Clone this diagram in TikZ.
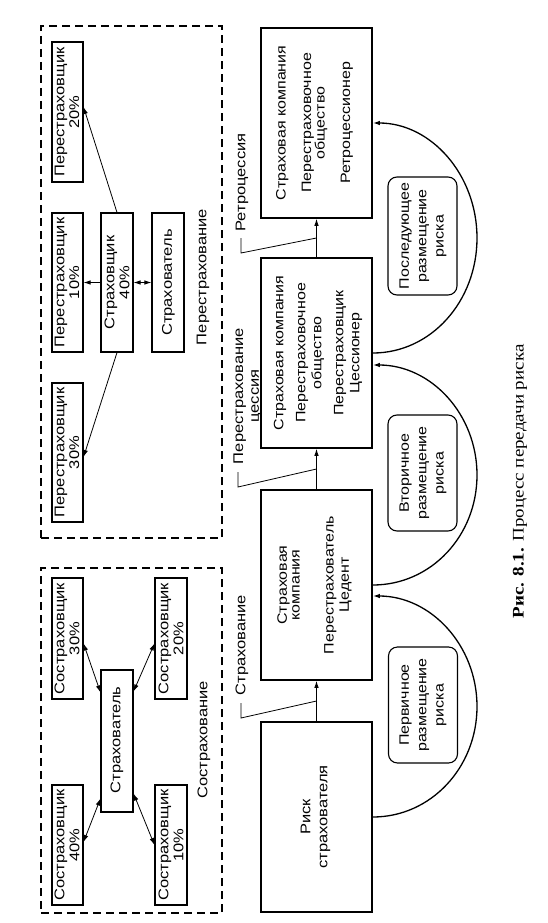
\documentclass[tikz,border=0pt]{standalone}
\usepackage{fontspec}
\setmainfont{Liberation Sans}
\newfontfamily\capfont{Liberation Serif}
\usetikzlibrary{arrows.meta,calc}
\newcommand\txtfsb[2]{\fontsize{#1}{#2}\selectfont\lineskiplimit=-30pt\relax}
\newcommand\txtfs[1]{\txtfsb{16}{#1}}
\begin{document}
\begin{tikzpicture}[x=1pt,y=-1pt,
  mainbox/.style={draw, line width=1.7pt, minimum width=111pt, minimum height=190pt, inner sep=0pt},
  smallbox/.style={draw, line width=1.1pt, inner sep=0pt},
  dashbox/.style={draw, line width=1.3pt, dash pattern=on 8pt off 5pt, inner sep=0pt},
  rbox/.style={draw, line width=1.1pt, rounded corners=9pt, minimum width=69pt, inner sep=0pt},
  txt/.style={rotate=90, yscale=0.85, align=center, inner sep=0pt, font=\txtfsb{16.5}{17.6}},
  tip/.style={-{Latex[length=7pt,width=4.5pt]}},
  dtip/.style={{Latex[length=7pt,width=4.5pt]}-{Latex[length=7pt,width=4.5pt]}},
  conn/.style={line width=0.8pt},
  arcline/.style={line width=1.3pt}
]
\useasboundingbox (0,0) rectangle (547,923);

% ---------- Reinsurance group ----------
\node[dashbox, minimum width=181pt, minimum height=512pt] (rebox) at (131.5,282) {};
\node[smallbox, minimum width=31pt, minimum height=140pt] (re20) at (67.5,112) {};
\node[txt] (re20t) at (67,112) {Перестраховщик\\20\%};
\node[smallbox, minimum width=31pt, minimum height=139pt] (re10) at (67.5,282.5) {};
\node[txt] (re10t) at (67,282.5) {Перестраховщик\\10\%};
\node[smallbox, minimum width=32pt, minimum height=139pt] (ins40) at (117,282.5) {};
\node[txt] (ins40t) at (117,282.5) {Страховщик\\40\%};
\node[smallbox, minimum width=32pt, minimum height=139pt] (holder) at (168,282.5) {};
\node[txt] (holdert) at (168.5,282.5) {Страхователь};
\node[smallbox, minimum width=31pt, minimum height=139pt] (re30) at (67.5,452.5) {};
\node[txt] (re30t) at (67,452.5) {Перестраховщик\\30\%};
\node[txt] (relab) at (203,277) {Перестрахование};

\draw[conn,tip] (ins40.north) -- ([yshift=5pt]re20.east);
\draw[conn,tip] (ins40.south) -- ([yshift=-4.5pt]re30.east);
\draw[conn,tip] (ins40.west) -- (re10.east);
\draw[conn,dtip] (ins40.east) -- (holder.west);

% ---------- Coinsurance group ----------
\node[dashbox, minimum width=181pt, minimum height=345pt] (cobox) at (131.5,740.5) {};
\node[smallbox, minimum width=32pt, minimum height=142pt] (holderC) at (117,741) {};
\node[txt] (holderCt) at (117,740) {Страхователь};
\node[smallbox, minimum width=31pt, minimum height=121pt] (co30) at (67.5,638.5) {};
\node[txt] (co30t) at (67,638.5) {Состраховщик\\30\%};
\node[smallbox, minimum width=32pt, minimum height=121pt] (co20) at (171,638.5) {};
\node[txt] (co20t) at (171,638.5) {Состраховщик\\20\%};
\node[smallbox, minimum width=31pt, minimum height=120pt] (co40) at (67.5,845) {};
\node[txt] (co40t) at (67,845) {Состраховщик\\40\%};
\node[smallbox, minimum width=32pt, minimum height=120pt] (co10) at (171,845) {};
\node[txt] (co10t) at (171,845) {Состраховщик\\10\%};
\node[txt] (colab) at (204,740) {Сострахование};

\draw[conn,dtip] ([yshift=-5pt]co30.east) -- ([yshift=-23pt]holderC.north west);
\draw[conn,dtip] ([yshift=-5pt]co20.west) -- ([yshift=-22pt]holderC.north east);
\draw[conn,dtip] ([yshift=3pt]co40.east) -- ([yshift=14pt]holderC.south west);
\draw[conn,dtip] (co10.west) -- ([yshift=19pt]holderC.south east);

% ---------- Main chain ----------
\node[mainbox] (retro) at (316.5,123) {};
\node[txt, font=\txtfs{16}] (retrot) at (314.5,123) {Страховая компания\\[14pt]Перестраховочное\\общество\\[14pt]Ретроцессионер};
\node[mainbox] (cessioner) at (316.5,353) {};
\node[txt, font=\txtfs{18.8}] (cessionert) at (318,353) {Страховая компания\\[7pt]Перестраховочное\\общество\\[7pt]Перестраховщик\\Цессионер};
\node[mainbox] (cedent) at (316.5,585) {};
\node[txt, font=\txtfs{18}] (cedentt) at (314.5,585) {Страховая\\[-3pt]компания\\[22pt]Перестрахователь\\Цедент};
\node[mainbox] (risk) at (316.5,817) {};
\node[txt, font=\txtfsb{16.5}{20}] (riskt) at (315.5,817) {Риск\\страхователя};

\draw[conn,tip] (cessioner.north) -- (retro.south);
\draw[conn,tip] (cedent.north) -- (cessioner.south);
\draw[conn,tip] (risk.north) -- (cedent.south);

\coordinate (m1) at ($(cessioner.north)!0.5!(retro.south)$);
\coordinate (m2) at ($(cedent.north)!0.5!(cessioner.south)$);
\coordinate (m3) at ($(risk.north)!0.5!(cedent.south)$);
\coordinate (l1) at (241,238);
\coordinate (l2) at (238,472);
\coordinate (l3) at (241,703);
\draw[conn] (l1) -- ++(0,15) -- (m1);
\draw[conn] (l2) -- ++(0,15) -- (m2);
\draw[conn] (l3) -- ++(0,15) -- (m3);
\node[txt] (retrolab) at (242,182.5) {Ретроцессия};
\node[txt, font=\txtfsb{16.5}{18.5}] (cesslab) at (247.5,396) {Перестрахование\\цессия};
\node[txt] (inslab) at (242,645) {Страхование};

% ---------- Arcs ----------
\coordinate (p1) at (477,706.5);
\coordinate (p2) at (477,475);
\coordinate (p3) at (477,238);
\draw[arcline,tip] (risk.east) .. controls +(58,0) and +(0,61) .. (p1)
  .. controls +(0,-61) and +(58,0) .. ([yshift=-11pt]cedent.east);
\draw[arcline,tip] (cedent.east) .. controls +(58,0) and +(0,61) .. (p2)
  .. controls +(0,-61) and +(58,0) .. ([yshift=-12pt]cessioner.east);
\draw[arcline,tip] (cessioner.east) .. controls +(58,0) and +(0,63.5) .. (p3)
  .. controls +(0,-63.5) and +(58,0) .. (retro.east);

\node[rbox, minimum height=118pt] (sub) at (422.5,236) {};
\node[txt, font=\txtfs{20.5}] (subt) at (423,236) {Последующее\\размещение\\риска};
\node[rbox, minimum height=116pt] (sec) at (422.5,473) {};
\node[txt, font=\txtfs{20.5}] (sect) at (423,473) {Вторичное\\размещение\\риска};
\node[rbox, minimum height=116pt] (pri) at (423,705) {};
\node[txt, font=\txtfs{20.5}] (prit) at (423,705) {Первичное\\размещение\\риска};

% ---------- Caption ----------
\node[txt, font=\capfont\fontsize{19}{22}\selectfont] (cap) at (520,481.5) {\textbf{Рис. 8.1.} Процесс передачи риска};
\end{tikzpicture}
\end{document}
